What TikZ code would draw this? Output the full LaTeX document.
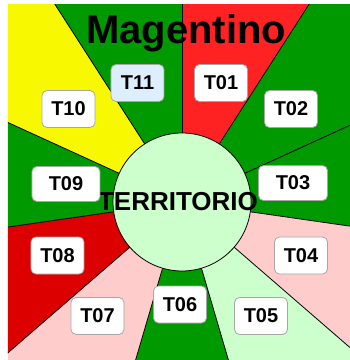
\documentclass[tikz,border=0pt]{standalone}
\usepackage{fontspec}
\setmainfont{Liberation Sans}
\definecolor{verde}{HTML}{009900}
\definecolor{rosso}{HTML}{FF2222}
\definecolor{rossoscuro}{HTML}{DD0000}
\definecolor{giallo}{HTML}{F8F800}
\definecolor{rosa}{HTML}{FFCCCC}
\definecolor{verdino}{HTML}{CCFFCC}
\definecolor{azzurrino}{HTML}{DDEEFF}

\begin{document}
\begin{tikzpicture}[x=1pt, y=1pt,
		etichetta/.style={draw=gray!70, fill=white, rounded corners=5pt, line width=0.8pt,
			minimum width=53pt, minimum height=37pt, inner sep=0pt,
			font=\bfseries\fontsize{20}{20}\selectfont}]
		\useasboundingbox (0, 0) rectangle (350, 360);
		\coordinate (centro) at (182, 158);
		% settori
		\begin{scope}
			\clip (8, 0) rectangle (350, 356);
			\foreach \col [count=\i] in {rosso, verde, verde, rosa, verdino, verde, rosa, rossoscuro, verde, giallo, verde} {
				\fill[\col] (centro) -- +({90-(\i-1)*360/11}:500) -- +({90-\i*360/11}:500) -- cycle;
			}
			\foreach \i in {0, ..., 10} {
				\draw[-, line width=0.8pt] (centro) -- +({90-\i*360/11}:500);
			}
		\end{scope}
		\node[circle, draw, fill=verdino, line width=0.8pt, minimum size=138pt, inner sep=0pt] (territorio) at (centro) {};
		\node[font=\bfseries\fontsize{26}{26}\selectfont] (nome) at ([xshift=-4pt]territorio.center) {TERRITORIO};
		\node[anchor=base, font=\bfseries\fontsize{40}{40}\selectfont] (titolo) at (186, 317) {Magentino};
		% etichette
		\node[etichetta] (t01) at (221, 277) {T01};
		\node[etichetta] (t02) at (291, 251) {T02};
		\node[etichetta, minimum width=69pt, minimum height=35pt] (t03) at (293, 177) {T03};
		\node[etichetta] (t04) at (301, 104.5) {T04};
		\node[etichetta] (t05) at (261, 44) {T05};
		\node[etichetta] (t06) at (180, 55.5) {T06};
		\node[etichetta] (t07) at (97.5, 44) {T07};
		\node[etichetta] (t08) at (57.5, 104.5) {T08};
		\node[etichetta, minimum width=68pt, minimum height=35pt] (t09) at (66, 176) {T09};
		\node[etichetta] (t10) at (68.5, 251) {T10};
		\node[etichetta, fill=azzurrino] (t11) at (137.5, 277) {T11};
	\end{tikzpicture}
\end{document}
